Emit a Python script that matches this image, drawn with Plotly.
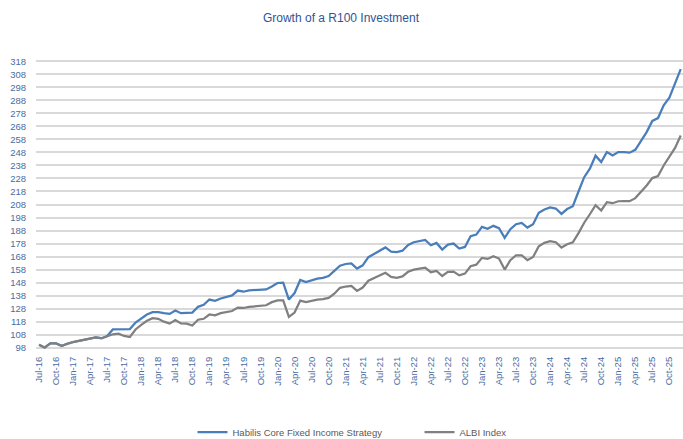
import pandas as pd
import plotly.graph_objects as go

# Monthly categories Jul-16 .. Dec-25
months = [d.strftime("%b-%y") for d in pd.date_range("2016-07-01", "2025-12-01", freq="MS")]

habilis = [
    100.3, 98.2, 101.3, 101.3, 99.4, 101.2, 102.4, 103.3, 104.1, 105.3,
    106.0, 105.3, 107.0, 112.0, 112.0, 112.0, 112.3, 117.3, 120.5, 123.5,
    125.3, 125.3, 124.5, 124.0, 126.6, 124.5, 124.8, 125.0, 129.4, 130.9,
    135.0, 134.0, 135.8, 137.0, 138.2, 141.9, 141.0, 142.1, 142.5, 142.6,
    142.8, 145.0, 147.7, 148.0, 135.0, 140.0, 150.0, 148.5, 149.8, 151.0,
    151.6, 153.0, 157.0, 161.0, 162.3, 162.8, 158.8, 161.3, 167.5, 170.0,
    172.5, 175.0, 171.8, 171.5, 172.5, 177.0, 179.0, 180.0, 180.8, 176.7,
    178.5, 173.4, 177.2, 178.0, 174.2, 175.4, 183.6, 184.9, 190.8, 189.3,
    191.6, 189.8, 182.4, 189.0, 192.9, 193.9, 190.3, 192.9, 201.6, 204.2,
    205.7, 204.9, 200.8, 204.5, 206.7, 218.0, 229.0, 235.5, 245.5, 240.6,
    248.3, 245.7, 248.3, 248.3, 247.8, 250.0, 256.5, 263.6, 272.2, 274.4,
    284.2, 290.0, 301.0, 312.0,
]

albi = [
    100.3, 98.0, 101.3, 101.3, 99.3, 101.2, 102.3, 103.2, 104.0, 105.2,
    105.9, 105.1, 106.5, 108.3, 108.8, 107.0, 106.2, 112.0, 115.5, 118.7,
    120.7, 120.2, 118.0, 116.5, 119.2, 116.6, 116.5, 115.0, 119.5, 120.2,
    123.5, 122.8, 124.5, 125.5, 126.2, 128.8, 128.5, 129.3, 129.8, 129.8,
    130.6, 133.0, 134.4, 134.4, 121.6, 125.0, 134.2, 133.1, 134.2, 135.0,
    135.3, 136.3, 139.5, 144.0, 145.0, 145.4, 141.6, 144.2, 149.5, 151.5,
    153.5, 155.5, 152.4, 151.6, 152.8, 156.3, 158.0, 159.0, 159.5, 156.0,
    157.0, 153.1, 156.2, 156.5, 153.6, 154.9, 160.6, 161.8, 167.0, 166.2,
    168.3, 166.5, 158.0, 165.2, 169.0, 169.0, 165.2, 167.7, 175.9, 178.5,
    179.8, 179.0, 174.9, 177.5, 179.0, 186.0, 194.0, 200.5, 207.5, 203.4,
    209.8, 209.0, 210.5, 210.6, 210.6, 212.9, 217.5, 222.6, 228.3, 229.8,
    238.0, 244.4, 251.5, 261.0,
]

x_ticks = [
    "Jul-16", "Oct-16", "Jan-17", "Apr-17", "Jul-17", "Oct-17", "Jan-18", "Apr-18",
    "Jul-18", "Oct-18", "Jan-19", "Apr-19", "Jul-19", "Oct-19", "Jan-20", "Apr-20",
    "Jul-20", "Oct-20", "Jan-21", "Apr-21", "Jul-21", "Oct-21", "Jan-22", "Apr-22",
    "Jul-22", "Oct-22", "Jan-23", "Apr-23", "Jul-23", "Oct-23", "Jan-24", "Apr-24",
    "Jul-24", "Oct-24", "Jan-25", "Apr-25", "Jul-25", "Oct-25",
]
y_ticks = list(range(98, 319, 10))

series_names = ["Habilis Core Fixed Income Strategy", "ALBI Index"]

FONT = "Arial, Liberation Sans, sans-serif"
TICK_COLOR = "#4A6CA3"

W, H = 683, 439

fig = go.Figure()
fig.add_trace(go.Scatter(x=months, y=habilis, mode="lines", name=series_names[0],
                         line=dict(color="#4A7EBB", width=2.25)))
fig.add_trace(go.Scatter(x=months, y=albi, mode="lines", name=series_names[1],
                         line=dict(color="#808080", width=2.25)))

fig.update_layout(
    width=W, height=H,
    margin=dict(l=36, r=0, t=60, b=90, autoexpand=False),
    paper_bgcolor="white", plot_bgcolor="white",
    font=dict(family=FONT, size=9.5, color=TICK_COLOR),
    title=dict(text="Growth of a R100 Investment", x=341 / W, xref="container", xanchor="center",
               y=1 - 18 / H, yref="container", yanchor="middle", automargin=False,
               font=dict(family=FONT, size=12, color="#2F5597")),
    showlegend=True,
    legend=dict(orientation="h", x=192.5 / W, xref="container", xanchor="left",
                y=7 / H, yref="container", yanchor="middle",
                font=dict(family=FONT, size=9.5, color="#595959"),
                entrywidth=182, entrywidthmode="pixels", traceorder="normal"),
    xaxis=dict(type="category", range=[-0.53, 113.4], tickmode="array",
               tickvals=x_ticks, ticktext=x_ticks, tickangle=-90, automargin=False,
               showgrid=False, showline=False, zeroline=False,
               ticks="outside", ticklen=3, tickcolor="rgba(0,0,0,0)",
               tickfont=dict(family=FONT, size=9.5, color=TICK_COLOR)),
    yaxis=dict(range=[97, 319], tickmode="array", tickvals=y_ticks, automargin=False,
               showgrid=True, gridcolor="#D9D9D9", gridwidth=1.5,
               zeroline=False, showline=False,
               ticks="outside", ticklen=7, tickcolor="rgba(0,0,0,0)",
               tickfont=dict(family=FONT, size=9.5, color=TICK_COLOR)),
)

fig.write_html("out.html",
               config={"displayModeBar": False},
               post_script="document.body.style.margin='0';document.body.style.overflow='hidden';")
